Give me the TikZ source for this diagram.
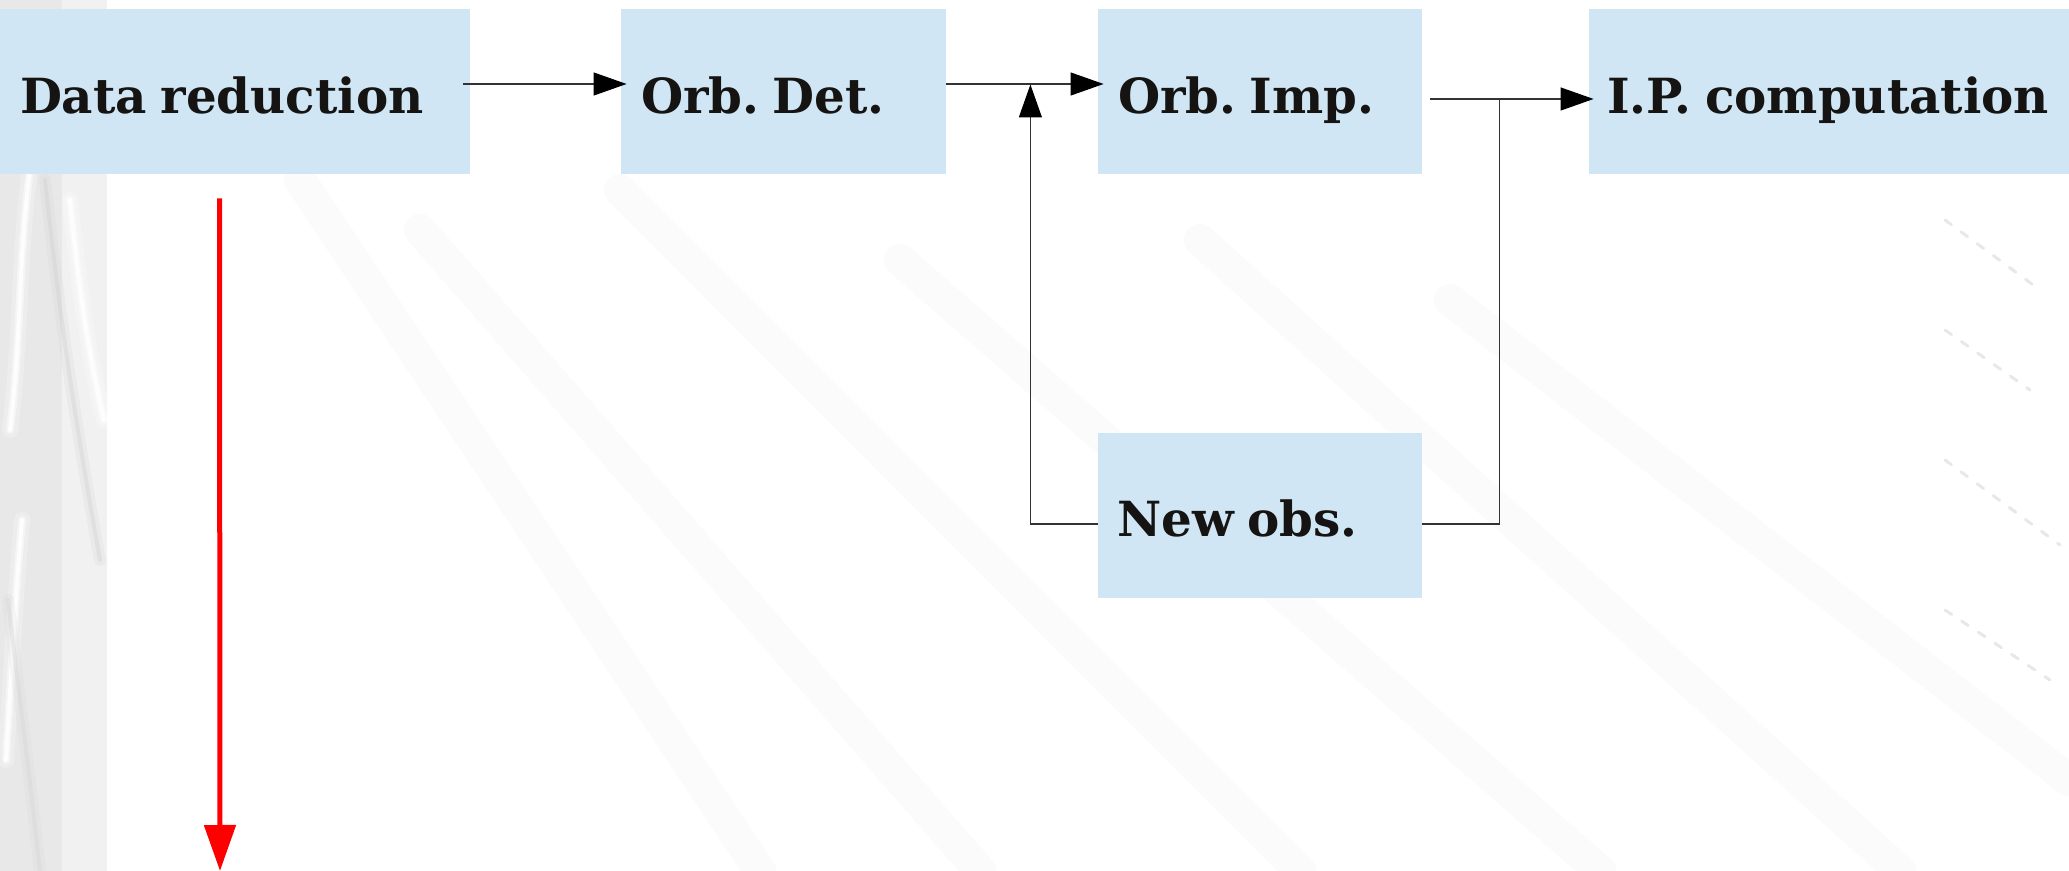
\documentclass[tikz,border=0pt]{standalone}
\usepackage{fontspec}
\setmainfont{DejaVu Serif}[WordSpace=0.8]
\usetikzlibrary{arrows.meta,calc}
\definecolor{boxblue}{RGB}{208,230,244}
\definecolor{ink}{RGB}{22,20,18}
\frenchspacing
\begin{document}
\begin{tikzpicture}[x=0.5pt,y=-0.5pt,
  stage/.style={fill=boxblue, draw=none, inner sep=0pt, minimum height=82.5pt},
  lbl/.style={font=\fontsize{24.2pt}{29pt}\selectfont\bfseries\frenchspacing, text=ink,
              inner sep=0pt, anchor=base west},
  flow/.style={draw=black!80, line width=0.55pt,
               -{Triangle[length=16.5pt,width=11.5pt,color=black]}},
  link/.style={draw=black!80, line width=0.55pt},
  redarrow/.style={draw=red, line width=2.5pt,
                   -{Triangle[length=23pt,width=15.5pt]}},
  streak/.style={line cap=round, line width=#1},
  streak/.default=2pt]

\useasboundingbox (0,0) rectangle (2069,871);
\fill[white] (0,0) rectangle (2069,871);

% paper texture: grey band on the left, faint streaks elsewhere
\fill[black!9] (0,0) rectangle (107,871);
\fill[black!4, opacity=0.7] (62,0) rectangle (107,871);
\foreach \w/\o in {8pt/0.25, 4pt/0.45, 2pt/0.8} {
  \draw[white, streak=\w, opacity=\o] (30,170) .. controls (18,260) and (22,330) .. (10,430);
  \draw[white, streak=\w, opacity=\o] (22,520) .. controls (15,600) and (12,660) .. (6,760);
  \draw[white, streak=\w, opacity=\o] (70,200) .. controls (80,300) and (90,360) .. (104,420);
}
\foreach \w/\o in {6pt/0.2, 2pt/0.4} {
  \draw[black!18, streak=\w, opacity=\o] (45,180) .. controls (60,320) and (75,420) .. (100,560);
  \draw[black!16, streak=\w, opacity=\o] (8,600) .. controls (20,700) and (30,780) .. (40,871);
}
\foreach \a/\b/\c/\d in {300/180/760/871, 420/230/980/871, 620/190/1300/871,
                         900/260/1600/871, 1200/240/1900/871, 1450/300/2069/780}
  \draw[black!1.5, streak=16pt] (\a,\b) -- (\c,\d);
\foreach \a/\b/\c/\d in {1945/220/2040/290, 1945/330/2030/390, 1945/460/2060/545, 1945/610/2050/680}
  \draw[black!9, streak=1.5pt, dash pattern=on 4pt off 6pt] (\a,\b) -- (\c,\d);

% process stages
\node[stage, minimum width=235pt] (dr) at (235,91.5) {};
\node[stage, minimum width=162.5pt] (od) at (783.5,91.5) {};
\node[stage, minimum width=162pt] (oi) at (1260,91.5) {};
\node[stage, minimum width=240pt] (ip) at (1829,91.5) {};
\node[stage, minimum width=162pt] (no) at (1260,515.5) {};

\node[lbl] (drt) at ($(dr.west)+(20,22.5)$) {Data reduction};
\node[lbl] (odt) at ($(od.west)+(20,22.5)$) {Orb. Det.};
\node[lbl] (oit) at ($(oi.west)+(20,22.5)$) {Orb. Imp.};
\node[lbl] (ipt) at ($(ip.west)+(18,22.5)$) {I.P. computation};
\node[lbl] (not) at ($(no.west)+(19,21.5)$) {New obs.};

% connectors
\coordinate (jr) at ($(oi.east)+(77,7.5)$);
\coordinate (jl) at ($(od.east)+(84,-7)$);
\coordinate (rend) at (220,871);

\draw[flow] ($(dr.east)+(-7,-7.5)$) -- ($(od.west)+(6,-7.5)$);
\draw[flow] ($(od.east)+(0,-7.5)$) -- ($(oi.west)+(6,-7.5)$);
\draw[flow] ($(oi.east)+(8,7.5)$) -- ($(ip.west)+(5,7.5)$);
\draw[link] ($(no.east)+(0,8.5)$) -| (jr);
\draw[flow] ($(no.west)+(0,8.5)$) -| (jl);
\draw[redarrow] ($(dr.south)+(-15.5,24)$) -- (rend);
\end{tikzpicture}
\end{document}
